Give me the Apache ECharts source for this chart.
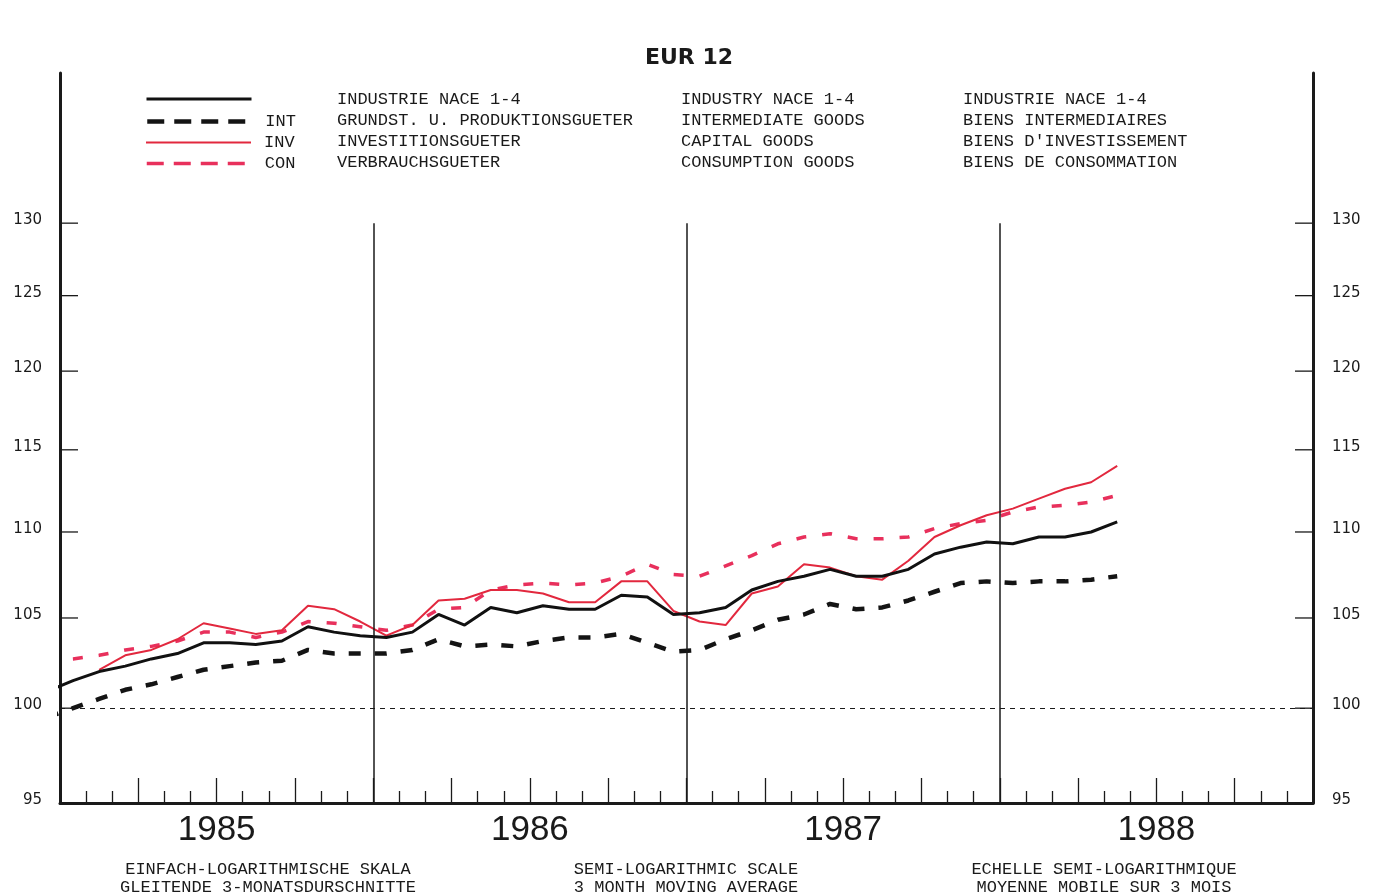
<!DOCTYPE html>
<html>
<head>
<meta charset="utf-8">
<script src="https://cdn.jsdelivr.net/npm/echarts@6/dist/echarts.min.js"></script>
<style>
html,body{margin:0;padding:0;background:#fff;}
#chart{width:1378px;height:895px;}
</style>
</head>
<body>
<div id="chart"></div>
<script>
// ---- data (monthly, 3 month moving averages, semi-log scale) ----
const months = ['1984-12','1985-01','1985-02','1985-03','1985-04','1985-05','1985-06','1985-07','1985-08','1985-09','1985-10','1985-11','1985-12',
  '1986-01','1986-02','1986-03','1986-04','1986-05','1986-06','1986-07','1986-08','1986-09','1986-10','1986-11','1986-12',
  '1987-01','1987-02','1987-03','1987-04','1987-05','1987-06','1987-07','1987-08','1987-09','1987-10','1987-11','1987-12',
  '1988-01','1988-02','1988-03','1988-04','1988-05'];

const nace = [100.9,101.5,102.0,102.3,102.7,103.0,103.6,103.6,103.5,103.7,104.5,104.2,104.0,
  103.9,104.2,105.2,104.6,105.6,105.3,105.7,105.5,105.5,106.3,106.2,105.2,
  105.3,105.6,106.6,107.1,107.4,107.8,107.4,107.4,107.8,108.7,109.1,109.4,
  109.3,109.7,109.7,110.0,110.6];

const int = [99.5,100.0,100.5,101.0,101.3,101.7,102.1,102.3,102.5,102.6,103.2,103.0,103.0,
  103.0,103.2,103.8,103.4,103.5,103.4,103.7,103.9,103.9,104.1,103.6,103.1,
  103.2,103.8,104.3,104.9,105.2,105.8,105.5,105.6,106.0,106.5,107.0,107.1,
  107.0,107.1,107.1,107.2,107.4];

const inv = [null,null,102.1,102.9,103.2,103.8,104.7,104.4,104.1,104.3,105.7,105.5,104.8,
  104.0,104.6,106.0,106.1,106.6,106.6,106.4,105.9,105.9,107.1,107.1,105.4,
  104.8,104.6,106.4,106.8,108.1,107.9,107.4,107.2,108.3,109.7,110.4,111.0,
  111.4,112.0,112.6,113.0,114.0];

const con = [102.6,102.7,102.9,103.2,103.4,103.7,104.2,104.2,103.9,104.2,104.8,104.7,104.5,
  104.3,104.6,105.5,105.6,106.6,106.9,107.0,106.9,107.0,107.4,108.1,107.5,
  107.4,108.0,108.6,109.3,109.7,109.9,109.6,109.6,109.7,110.2,110.5,110.7,
  111.2,111.5,111.6,111.8,112.2];

const yTicks = [95,100,105,110,115,120,125,130];
const yTickLabels = ['95','100','105','110','115','120','125','130'];
const years = ['1985','1986','1987','1988'];

const title = 'EUR 12';
const seriesNames = ['NACE 1-4','INT','INV','CON'];
const legendCodes = ['','INT','INV','CON'];
const descDE = ['INDUSTRIE NACE 1-4','GRUNDST. U. PRODUKTIONSGUETER','INVESTITIONSGUETER','VERBRAUCHSGUETER'];
const descEN = ['INDUSTRY NACE 1-4','INTERMEDIATE GOODS','CAPITAL GOODS','CONSUMPTION GOODS'];
const descFR = ['INDUSTRIE NACE 1-4','BIENS INTERMEDIAIRES',"BIENS D'INVESTISSEMENT",'BIENS DE CONSOMMATION'];
const footDE = ['EINFACH-LOGARITHMISCHE SKALA','GLEITENDE 3-MONATSDURSCHNITTE'];
const footEN = ['SEMI-LOGARITHMIC SCALE','3 MONTH MOVING AVERAGE'];
const footFR = ['ECHELLE SEMI-LOGARITHMIQUE','MOYENNE MOBILE SUR 3 MOIS'];

// ---- helpers ----
const xPos = months.map(m => { const p = m.split('-').map(Number); return (p[0] - 1985) * 12 + (p[1] - 1) + 0.5; });
const toData = arr => arr.map((v, i) => [xPos[i], v]).filter(d => d[1] !== null);

const MONO = '"Liberation Mono", "DejaVu Sans Mono", monospace';
const INK = '#1a1a1a';
const styles = {
  'NACE 1-4': {color: '#111111', width: 3, type: 'solid', legendType: 'solid'},
  'INT': {color: '#141414', width: 4.5, type: [12, 14], legendType: [17, 10]},
  'INV': {color: '#e2283e', width: 2, type: 'solid', legendType: 'solid'},
  'CON': {color: '#e8305c', width: 3.5, type: [10, 16], legendType: [17, 10]}
};

const chart = echarts.init(document.getElementById('chart'), null, {renderer: 'canvas'});

const graphics = [];
const rowsY = [99, 120, 141, 162];
[[descDE, 337], [descEN, 681], [descFR, 963]].forEach(([arr, x]) => {
  arr.forEach((t, i) => graphics.push({
    type: 'text', x: x, y: rowsY[i], silent: true,
    style: {text: t, fill: INK, font: '17px ' + MONO, align: 'left', verticalAlign: 'middle'}
  }));
});
[[footDE, 268], [footEN, 686], [footFR, 1104]].forEach(([arr, x]) => {
  arr.forEach((t, i) => graphics.push({
    type: 'text', x: x, y: [869, 887][i], silent: true,
    style: {text: t, fill: INK, font: '17px ' + MONO, align: 'center', verticalAlign: 'middle'}
  }));
});

const legends = seriesNames.map((n, i) => ({
  data: [n], orient: 'vertical', left: 145, top: rowsY[i] - 7, padding: 0,
  itemWidth: 105, itemHeight: 14, selectedMode: false,
  itemStyle: {opacity: 0},
  lineStyle: {width: styles[n].width, type: styles[n].legendType, color: styles[n].color},
  formatter: () => legendCodes[i],
  textStyle: {fontFamily: MONO, fontSize: 17, color: INK, padding: [-2, 0, 0, 8]}
}));

const lineSeries = (name, arr, z, extra) => Object.assign({
  name: name, type: 'line', data: toData(arr), symbol: 'none', z: z,
  lineStyle: {color: styles[name].color, width: styles[name].width, type: styles[name].type},
  itemStyle: {color: styles[name].color}
}, extra || {});

const option = {
  backgroundColor: '#ffffff',
  animation: false,
  title: {
    text: title, left: 'center', top: 42,
    textStyle: {fontFamily: '"DejaVu Sans", sans-serif', fontSize: 22, fontWeight: 'bold', color: INK}
  },
  legend: legends,
  graphic: graphics,
  grid: {left: 60, right: 65, top: 73, bottom: 92, containLabel: false},
  xAxis: {
    type: 'value', min: 0, max: 48, interval: 3,
    axisLine: {show: true, onZero: false, lineStyle: {color: INK, width: 3}},
    axisTick: {show: true, inside: true, length: 25, lineStyle: {color: INK, width: 1.3}},
    minorTick: {show: true, splitNumber: 3, length: 12, lineStyle: {color: INK, width: 1.3}},
    splitLine: {show: false},
    axisLabel: {
      show: true, margin: 10, fontSize: 35, color: INK, fontFamily: '"Liberation Sans", sans-serif',
      formatter: v => (v % 12 === 6 ? years[(v - 6) / 12] : '')
    }
  },
  yAxis: [
    {
      type: 'log', logBase: 10, min: 95, max: 141,
      axisLine: {show: true, onZero: false, lineStyle: {color: INK, width: 3}},
      axisTick: {show: false}, axisLabel: {show: false}, splitLine: {show: false}, minorTick: {show: false}
    },
    {
      type: 'value', min: 0, max: 1, position: 'right',
      axisLine: {show: true, onZero: false, lineStyle: {color: INK, width: 3}},
      axisTick: {show: false}, axisLabel: {show: false}, splitLine: {show: false}
    }
  ],
  series: [
    {
      type: 'custom', name: 'ticks', silent: true, clip: false, z: 1,
      data: yTicks.map((v, i) => [0, v, i]),
      renderItem: (params, api) => {
        const v = api.value(1);
        const i = api.value(2);
        const pL = api.coord([0, v]);
        const pR = api.coord([48, v]);
        const y = pL[1];
        const font = '15px "DejaVu Sans", sans-serif';
        return {
          type: 'group',
          children: [
            {type: 'line', shape: {x1: pL[0], y1: y, x2: pL[0] + 18, y2: y}, style: {stroke: INK, lineWidth: 1.3}},
            {type: 'line', shape: {x1: pR[0] - 18, y1: y, x2: pR[0], y2: y}, style: {stroke: INK, lineWidth: 1.3}},
            {type: 'text', style: {text: yTickLabels[i], x: pL[0] - 18, y: y - 3, align: 'right', verticalAlign: 'middle', fill: INK, font: font}},
            {type: 'text', style: {text: yTickLabels[i], x: pR[0] + 19, y: y - 3, align: 'left', verticalAlign: 'middle', fill: INK, font: font}}
          ]
        };
      }
    },
    lineSeries('INT', int, 2, {
      markLine: {
        silent: true, symbol: 'none', label: {show: false},
        lineStyle: {color: INK, width: 1, type: [5, 5]},
        data: [{yAxis: 100}]
      }
    }),
    lineSeries('CON', con, 3),
    lineSeries('INV', inv, 4),
    lineSeries('NACE 1-4', nace, 5, {
      markLine: {
        silent: true, symbol: 'none', label: {show: false},
        lineStyle: {color: INK, width: 1.5, type: 'solid'},
        data: [12, 24, 36].map(x => [{coord: [x, 95]}, {coord: [x, 130]}])
      }
    })
  ]
};
chart.setOption(option);
</script>
</body>
</html>
